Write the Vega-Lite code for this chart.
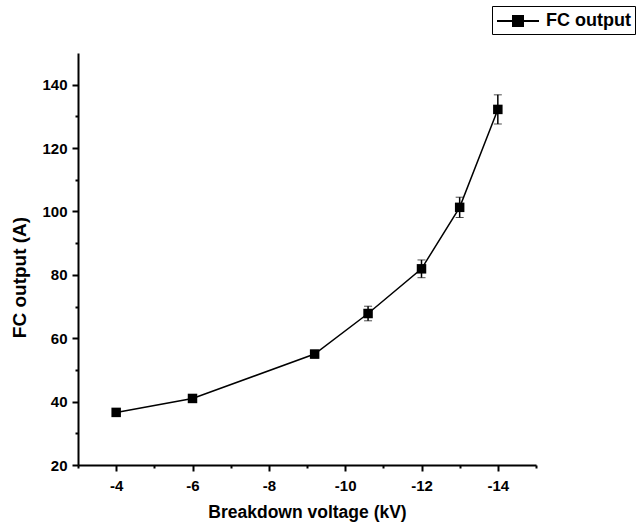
{
  "$schema": "https://vega.github.io/schema/vega-lite/v6.json",
  "width": 458,
  "height": 412,
  "autosize": {"type": "none"},
  "padding": {"left": 78, "top": 53, "right": 103, "bottom": 59},
  "background": "white",
  "config": {
    "view": {"stroke": null},
    "font": "Liberation Sans",
    "axis": {
      "grid": false,
      "domainColor": "black",
      "domainWidth": 2,
      "tickColor": "black",
      "tickWidth": 2,
      "labelColor": "black",
      "labelFont": "Liberation Sans",
      "labelFontWeight": "bold",
      "labelFontSize": 15,
      "titleColor": "black",
      "titleFont": "Liberation Sans",
      "titleFontWeight": "bold",
      "titleFontSize": 17.5
    }
  },
  "data": {
    "values": [
      {"voltage": -4, "output": 36.6, "lo": 36.1, "hi": 37.1, "series": "FC output"},
      {"voltage": -6, "output": 41.0, "lo": 40.5, "hi": 41.5, "series": "FC output"},
      {"voltage": -9.2, "output": 55.0, "lo": 53.8, "hi": 56.2, "series": "FC output"},
      {"voltage": -10.6, "output": 67.8, "lo": 65.5, "hi": 70.1, "series": "FC output"},
      {"voltage": -12, "output": 81.9, "lo": 79.1, "hi": 84.7, "series": "FC output"},
      {"voltage": -13, "output": 101.3, "lo": 98.1, "hi": 104.5, "series": "FC output"},
      {"voltage": -14, "output": 132.2, "lo": 127.6, "hi": 136.8, "series": "FC output"}
    ]
  },
  "layer": [
    {
      "mark": {"type": "line", "strokeWidth": 1.5},
      "encoding": {
        "x": {
          "field": "voltage",
          "type": "quantitative",
          "title": "Breakdown voltage (kV)",
          "scale": {"domain": [-15, -3], "reverse": true, "nice": false, "zero": false},
          "axis": {
            "values": [-3, -4, -5, -6, -7, -8, -9, -10, -11, -12, -13, -14, -15],
            "tickCount": 30,
            "labelExpr": "abs(datum.value) % 2 == 0 ? '' + datum.value : ''",
            "tickSize": {"condition": {"test": "abs(datum.value) % 2 == 1", "value": 3}, "value": 6},
            "labelPadding": 7,
            "titlePadding": 10,
            "labelFlush": false,
            "labelOverlap": false
          }
        },
        "y": {
          "field": "output",
          "type": "quantitative",
          "title": "FC output (A)",
          "scale": {"domain": [20, 150], "nice": false, "zero": false},
          "axis": {
            "values": [20, 30, 40, 50, 60, 70, 80, 90, 100, 110, 120, 130, 140],
            "tickCount": 30,
            "labelExpr": "datum.value % 20 == 0 ? '' + datum.value : ''",
            "tickSize": {"condition": {"test": "datum.value % 20 != 0", "value": 3}, "value": 6},
            "labelPadding": 5,
            "titlePadding": 12,
            "titleFontSize": 19,
            "titleY": 224,
            "labelFlush": false,
            "labelOverlap": false
          }
        },
        "color": {
          "field": "series",
          "type": "nominal",
          "scale": {"range": ["black"]},
          "legend": {
            "title": null,
            "orient": "none",
            "legendX": 414,
            "legendY": -47,
            "strokeColor": "black",
            "padding": 4,
            "symbolType": "M-1,0H0.6M1.6,0H3.2M0.6,-0.5H1.6V0.5H0.6Z",
            "symbolSize": 400,
            "symbolFillColor": "black",
            "symbolStrokeColor": "black",
            "symbolStrokeWidth": 2,
            "labelFont": "Liberation Sans",
            "labelFontWeight": "bold",
            "labelFontSize": 18,
            "labelColor": "black",
            "labelOffset": 28
          }
        }
      }
    },
    {
      "mark": {"type": "errorbar", "ticks": {"size": 8, "strokeWidth": 1.5}, "rule": {"strokeWidth": 1.5}, "color": "black"},
      "encoding": {
        "x": {"field": "voltage", "type": "quantitative", "title": "Breakdown voltage (kV)"},
        "y": {"field": "lo", "type": "quantitative", "title": "FC output (A)"},
        "y2": {"field": "hi"}
      }
    },
    {
      "mark": {"type": "point", "shape": "square", "filled": true, "size": 90, "color": "black", "opacity": 1},
      "encoding": {
        "x": {"field": "voltage", "type": "quantitative", "title": "Breakdown voltage (kV)"},
        "y": {"field": "output", "type": "quantitative", "title": "FC output (A)"}
      }
    }
  ]
}
